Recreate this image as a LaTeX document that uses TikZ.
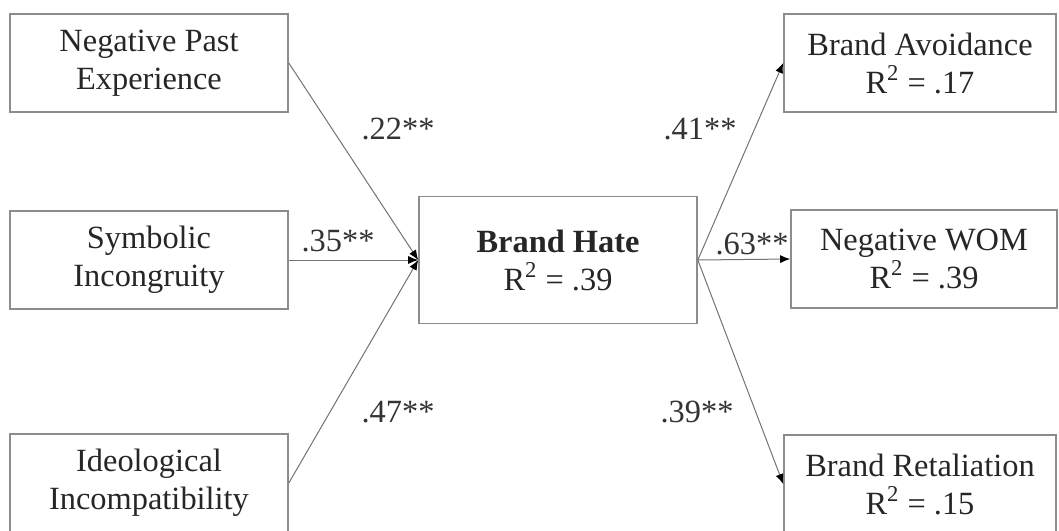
\documentclass[tikz,border=0pt]{standalone}
\usepackage{fontspec}
\setmainfont{Liberation Serif}
\usetikzlibrary{arrows.meta}
\tikzset{
  box/.style={draw=black!45, line width=0.8pt, align=center, inner sep=0pt,
    minimum width=139pt, minimum height=49pt, text=black!85,
    font=\fontsize{16.2}{19}\selectfont},
  link/.style={draw=black!55, line width=0.5pt,
    -{Latex[length=5pt, width=4pt, color=black]}},
  coef/.style={text=black!80, font=\fontsize{16.2}{19}\selectfont}
}
\begin{document}
\begin{tikzpicture}[x=0.5pt, y=-0.5pt]
  \useasboundingbox (0,0) rectangle (1059,530);
  % exogenous constructs
  \node[box] (npe) at (149,63) {Negative Past\\Experience};
  \node[box] (sin) at (149,260) {Symbolic\\Incongruity};
  \node[box] (iin) at (149,483) {Ideological\\Incompatibility};
  % mediator
  \node[box, minimum height=63.5pt] (hate) at (558,260)
    {\textbf{Brand Hate}\\R\textsuperscript{2} = .39};
  % outcomes
  \node[box, minimum width=136pt] (avoid) at (920,63)
    {Brand Avoidance\\R\textsuperscript{2} = .17};
  \node[box, minimum width=133pt] (wom) at (924,259)
    {Negative WOM\\R\textsuperscript{2} = .39};
  \node[box, minimum width=136pt] (ret) at (920,484)
    {Brand Retaliation\\R\textsuperscript{2} = .15};
  % paths
  \foreach \src in {npe, sin, iin}
    \draw[link] (\src.east) -- (hate.west);
  \foreach \dst in {avoid, wom, ret}
    \draw[link] (hate.east) -- (\dst.west);
  % path coefficients
  \node[coef] (c1) at (398,129) {.22**};
  \node[coef] (c2) at (338,241) {.35**};
  \node[coef] (c3) at (398,412) {.47**};
  \node[coef] (c4) at (700,129) {.41**};
  \node[coef] (c5) at (752,244) {.63**};
  \node[coef] (c6) at (697,412) {.39**};
\end{tikzpicture}
\end{document}
